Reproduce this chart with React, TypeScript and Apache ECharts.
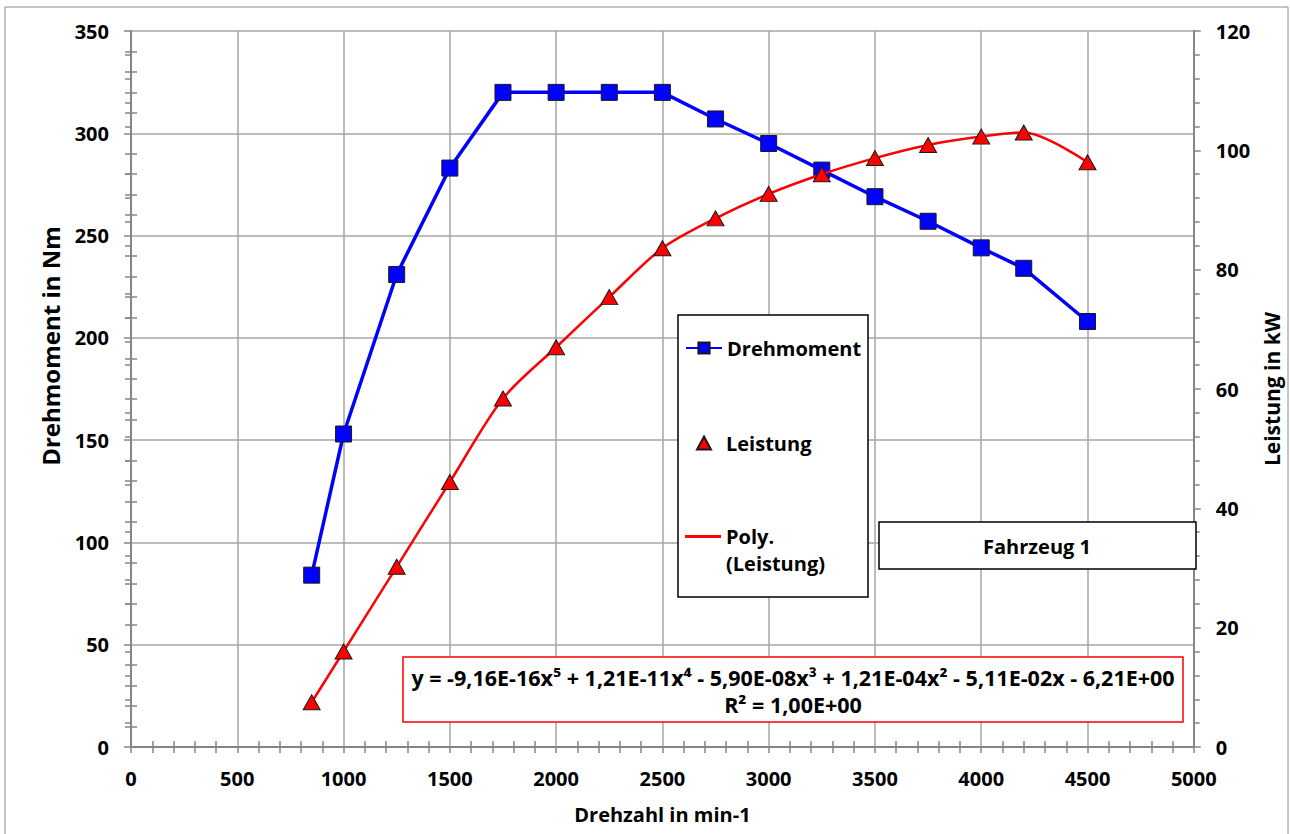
import React, { useEffect, useRef } from "react";
import * as echarts from "echarts";

const rpm = [850, 1000, 1250, 1500, 1750, 2000, 2250, 2500, 2750, 3000, 3250, 3500, 3750, 4000, 4200, 4500];
const torque = [84, 153, 231, 283, 320, 320, 320, 320, 307, 295, 282, 269, 257, 244, 234, 208];
const power = [7.5, 16.0, 30.2, 44.4, 58.4, 67.0, 75.4, 83.6, 88.6, 92.7, 96.0, 98.7, 100.9, 102.3, 103.0, 98.0];

const seriesNames = ["Drehmoment", "Leistung", "Poly.\n(Leistung)"];
const axisNames = { x: "Drehzahl in min-1", left: "Drehmoment in Nm", right: "Leistung in kW" };
const equationLines = [
  "y = -9,16E-16x\u2075 + 1,21E-11x\u2074 - 5,90E-08x\u00B3 + 1,21E-04x\u00B2 - 5,11E-02x - 6,21E+00",
  "R\u00B2 = 1,00E+00",
];
const boxLabel = "Fahrzeug 1";

const FONT = "Open Sans";

export default function App() {
  const ref = useRef<HTMLDivElement>(null);

  useEffect(() => {
    const chart = echarts.init(ref.current!, null, { renderer: "svg" });
    const torqueData = rpm.map((x, i) => [x, torque[i]]);
    const powerData = rpm.map((x, i) => [x, power[i]]);

    const axisLineStyle = { color: "#868686", width: 2 };
    const tickStyle = { color: "#868686", width: 1.5 };
    const txt = { fontFamily: FONT, fontWeight: "bold" as const, fontSize: 20, color: "#000" };
    const gridLine = { show: true, lineStyle: { color: "#a6a6a6", width: 1.5 } };
    const plain = (v: number) => String(v);

    const innerAxis = (pos: string, min: number, max: number, interval: number) => ({
      type: "value",
      position: pos,
      min,
      max,
      interval,
      axisLine: { show: false },
      axisTick: { show: false, inside: true },
      minorTick: { show: true, splitNumber: 5, length: 6, lineStyle: tickStyle },
      axisLabel: { show: false },
      splitLine: { show: false },
    });

    const legendBase = {
      orient: "vertical",
      padding: 0,
      itemGap: 0,
      selectedMode: false,
      z: 10,
      textStyle: { ...txt, lineHeight: 24 },
    };

    const option: any = {
      animation: false,
      backgroundColor: "#ffffff",
      grid: { left: 131, right: 96, top: 31, bottom: 87 },
      xAxis: [
        {
          type: "value",
          position: "bottom",
          min: 0,
          max: 5000,
          interval: 500,
          name: axisNames.x,
          nameLocation: "middle",
          nameGap: 57,
          nameTextStyle: { ...txt },
          axisLine: { show: true, onZero: false, lineStyle: axisLineStyle },
          axisTick: { show: true, length: 6, lineStyle: tickStyle },
          minorTick: { show: true, splitNumber: 5, length: 6, lineStyle: tickStyle },
          axisLabel: { margin: 21, formatter: plain, ...txt },
          splitLine: gridLine,
        },
        innerAxis("bottom", 0, 5000, 500),
      ],
      yAxis: [
        {
          type: "value",
          position: "left",
          min: 0,
          max: 350,
          interval: 50,
          name: axisNames.left,
          nameLocation: "middle",
          nameRotate: 90,
          nameGap: 63,
          nameTextStyle: { ...txt, fontSize: 24, lineHeight: 26, padding: [0, 0, 0, 86] },
          axisLine: { show: true, onZero: false, lineStyle: axisLineStyle },
          axisTick: { show: true, length: 7, lineStyle: tickStyle },
          minorTick: { show: true, splitNumber: 5, length: 6, lineStyle: tickStyle },
          axisLabel: { margin: 22, formatter: plain, ...txt },
          splitLine: gridLine,
        },
        {
          type: "value",
          position: "right",
          min: 0,
          max: 120,
          interval: 20,
          name: axisNames.right,
          nameLocation: "middle",
          nameRotate: 90,
          nameGap: 66,
          nameTextStyle: { ...txt, fontSize: 21 },
          axisLine: { show: true, onZero: false, lineStyle: axisLineStyle },
          axisTick: { show: true, length: 7, lineStyle: tickStyle },
          minorTick: { show: true, splitNumber: 5, length: 6, lineStyle: tickStyle },
          axisLabel: { margin: 22, formatter: plain, ...txt },
          splitLine: { show: false },
        },
        innerAxis("left", 0, 350, 50),
        innerAxis("right", 0, 120, 20),
      ],
      legend: [
        { ...legendBase, left: 685, top: 336, itemWidth: 36, itemHeight: 14, data: [seriesNames[0]] },
        {
          ...legendBase,
          left: 696,
          top: 431,
          itemWidth: 14,
          itemHeight: 13,
          textStyle: { ...txt, lineHeight: 24, padding: [0, 0, 0, 10] },
          data: [{ name: seriesNames[1], icon: "triangle" }],
        },
        {
          ...legendBase,
          left: 685,
          top: 496,
          itemWidth: 36,
          itemHeight: 3,
          textStyle: { ...txt, lineHeight: 27 },
          formatter: (n: string) => " \n" + n,
          data: [{ name: seriesNames[2], icon: "rect" }],
        },
      ],
      series: [
        {
          name: seriesNames[0],
          type: "line",
          xAxisIndex: 0,
          yAxisIndex: 0,
          data: torqueData,
          symbol: "rect",
          symbolSize: 16,
          lineStyle: { color: "#0000ff", width: 3.5 },
          itemStyle: { color: "#0000ff", borderColor: "#1a1a1a", borderWidth: 1 },
          z: 3,
        },
        {
          name: seriesNames[2],
          type: "line",
          xAxisIndex: 0,
          yAxisIndex: 1,
          data: powerData,
          smooth: 0.3,
          symbol: "none",
          lineStyle: { color: "#ff0000", width: 2.5 },
          itemStyle: { color: "#ff0000" },
          z: 4,
        },
        {
          name: seriesNames[1],
          type: "scatter",
          xAxisIndex: 0,
          yAxisIndex: 1,
          data: powerData,
          symbol: "triangle",
          symbolSize: [17, 15],
          itemStyle: { color: "#ff0000", borderColor: "#1a1a1a", borderWidth: 1, opacity: 1 },
          z: 5,
        },
      ],
      graphic: [
        {
          type: "rect",
          z: 0,
          silent: true,
          shape: { x: 5, y: 7, width: 1283, height: 840 },
          style: { fill: "none", stroke: "#8c8c8c", lineWidth: 1 },
        },
        {
          type: "rect",
          z: 6,
          shape: { x: 678, y: 315, width: 190, height: 282 },
          style: { fill: "#ffffff", stroke: "#000000", lineWidth: 1.5 },
        },
        {
          type: "rect",
          z: 6,
          shape: { x: 879, y: 522, width: 317, height: 47 },
          style: { fill: "#ffffff", stroke: "#000000", lineWidth: 1.5 },
        },
        {
          type: "text",
          z: 7,
          x: 1037,
          y: 546,
          style: { text: boxLabel, ...txt, fill: "#000", align: "center", verticalAlign: "middle" },
        },
        {
          type: "rect",
          z: 6,
          shape: { x: 403, y: 657, width: 780, height: 65 },
          style: { fill: "#ffffff", stroke: "#ff0000", lineWidth: 1.5 },
        },
        {
          type: "text",
          z: 7,
          x: 793,
          y: 677,
          style: { text: equationLines[0], ...txt, fontSize: 21.5, fill: "#000", align: "center", verticalAlign: "middle" },
        },
        {
          type: "text",
          z: 7,
          x: 793,
          y: 704,
          style: { text: equationLines[1], ...txt, fontSize: 21.5, fill: "#000", align: "center", verticalAlign: "middle" },
        },
      ],
    };

    chart.setOption(option);
    return () => chart.dispose();
  }, []);

  return (
    <div
      ref={ref}
      style={{ position: "absolute", left: 0, top: 0, width: 1290, height: 834, background: "#fff" }}
    />
  );
}
